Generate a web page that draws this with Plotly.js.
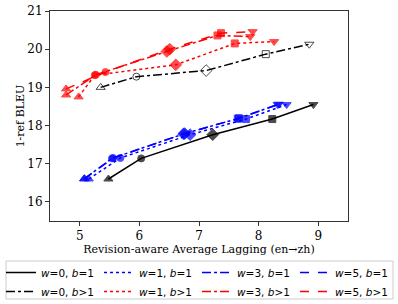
<!DOCTYPE html>
<html>
<head>
<meta charset="utf-8">
<script src="https://cdn.plot.ly/plotly-3.0.1.min.js"></script>
<style>html,body{margin:0;padding:0;background:#fff;}#chart{width:398px;height:304px;}</style>
</head>
<body>
<div id="chart"></div>
<script>
// Data
const symbols = ['triangle-up', 'circle', 'diamond', 'square', 'triangle-down'];

const w0b1_x = [5.48, 6.03, 7.23, 8.23, 8.92];
const w0b1_y = [16.60, 17.14, 17.76, 18.17, 18.55];

const w0bg_x = [5.35, 5.95, 7.12, 8.12, 8.85];
const w0bg_y = [19.00, 19.28, 19.44, 19.87, 20.13];

const w1b1_x = [5.15, 5.68, 6.85, 7.79, 8.47];
const w1b1_y = [16.60, 17.15, 17.76, 18.17, 18.55];

const w3b1_x = [5.07, 5.54, 6.74, 7.65, 8.32];
const w3b1_y = [16.60, 17.14, 17.78, 18.18, 18.55];

const w5b1_x = [5.08, 5.56, 6.76, 7.67, 8.34];
const w5b1_y = [16.61, 17.15, 17.79, 18.19, 18.56];

const w1bg_x = [4.98, 5.25, 6.61, 7.60, 8.26];
const w1bg_y = [18.75, 19.32, 19.59, 20.15, 20.20];

const w3bg_x = [4.77, 5.27, 6.46, 7.31, 7.86];
const w3bg_y = [18.80, 19.33, 19.94, 20.36, 20.33];

const w5bg_x = [4.77, 5.43, 6.51, 7.37, 7.90];
const w5bg_y = [18.96, 19.40, 20.00, 20.42, 20.46];

const labels = [
  '<i>w</i>=0, <i>b</i>=1', '<i>w</i>=0, <i>b</i>>1',
  '<i>w</i>=1, <i>b</i>=1', '<i>w</i>=1, <i>b</i>>1',
  '<i>w</i>=3, <i>b</i>=1', '<i>w</i>=3, <i>b</i>>1',
  '<i>w</i>=5, <i>b</i>=1', '<i>w</i>=5, <i>b</i>>1'
];

// legend column order (matplotlib ncol=4 fills column-wise)
const series = [
  {x: w0b1_x, y: w0b1_y, color: '#000000', dash: 'solid',   open: false, label: labels[0], leg: 'legend'},
  {x: w0bg_x, y: w0bg_y, color: '#000000', dash: 'dashdot', open: true,  label: labels[1], leg: 'legend'},
  {x: w1b1_x, y: w1b1_y, color: '#0000ff', dash: 'dot',     open: false, label: labels[2], leg: 'legend2'},
  {x: w1bg_x, y: w1bg_y, color: '#ff0000', dash: 'dot',     open: false, label: labels[3], leg: 'legend2'},
  {x: w3b1_x, y: w3b1_y, color: '#0000ff', dash: 'dashdot', open: false, label: labels[4], leg: 'legend3'},
  {x: w3bg_x, y: w3bg_y, color: '#ff0000', dash: 'dashdot', open: false, label: labels[5], leg: 'legend3'},
  {x: w5b1_x, y: w5b1_y, color: '#0000ff', dash: 'dash',    open: false, label: labels[6], leg: 'legend4'},
  {x: w5bg_x, y: w5bg_y, color: '#ff0000', dash: 'dash',    open: false, label: labels[7], leg: 'legend4'}
];

const sizes = [8, 7, 9, 7, 8];
const traces = [];
series.forEach(s => {
  traces.push({
    x: s.x, y: s.y, type: 'scatter', mode: 'lines+markers', showlegend: false,
    line: {color: s.color, dash: s.dash, width: 1.5},
    marker: {
      symbol: symbols.map(m => s.open ? m + '-open' : m),
      size: sizes, color: s.color,
      line: {color: s.color, width: 1}
    }
  });
});
// legend entries (lines only)
series.forEach(s => {
  traces.push({
    x: [null], y: [null], type: 'scatter', mode: 'lines', name: s.label, showlegend: true,
    legend: s.leg,
    line: {color: s.color, dash: s.dash, width: 1.5}
  });
});

const axisCommon = {
  showgrid: false, zeroline: false, showline: true, mirror: true,
  linecolor: '#333', linewidth: 1, ticks: 'outside', ticklen: 4, tickcolor: '#333',
  tickfont: {family: 'DejaVu Serif', size: 12, color: '#000'}
};

function legendAt(px) {
  return {
    orientation: 'v', xref: 'paper', yref: 'paper',
    x: (px - 50) / 298, y: (221 - 258) / 210, xanchor: 'left', yanchor: 'top',
    bgcolor: 'rgba(0,0,0,0)', borderwidth: 0,
    font: {family: 'DejaVu Sans', size: 10.5, color: '#000'},
    tracegroupgap: 0, itemwidth: 30
  };
}

const layout = {
  width: 398, height: 304,
  margin: {l: 50, r: 50, t: 11, b: 83, autoexpand: false},
  paper_bgcolor: '#fff', plot_bgcolor: '#fff',
  font: {family: 'DejaVu Serif', color: '#000'},
  xaxis: Object.assign({}, axisCommon, {
    range: [4.5, 9.5], tickvals: [5, 6, 7, 8, 9],
    title: {text: 'Revision-aware Average Lagging (en→zh)', font: {family: 'DejaVu Serif', size: 11}, standoff: 0}
  }),
  yaxis: Object.assign({}, axisCommon, {
    range: [15.5, 21], tickvals: [16, 17, 18, 19, 20, 21],
    title: {text: '1-ref BLEU', font: {family: 'DejaVu Serif', size: 11}, standoff: 0}
  }),
  showlegend: true,
  legend: legendAt(1),
  legend2: legendAt(99),
  legend3: legendAt(197),
  legend4: legendAt(295),
  shapes: [{
    type: 'rect', xref: 'paper', yref: 'paper',
    x0: (6 - 50) / 298, x1: (393 - 50) / 298,
    y0: (221 - 299) / 210, y1: (221 - 261) / 210,
    line: {color: '#cccccc', width: 1}, fillcolor: 'rgba(0,0,0,0)', layer: 'below'
  }]
};

Plotly.newPlot('chart', traces, layout, {displayModeBar: false, staticPlot: true});
</script>
</body>
</html>
